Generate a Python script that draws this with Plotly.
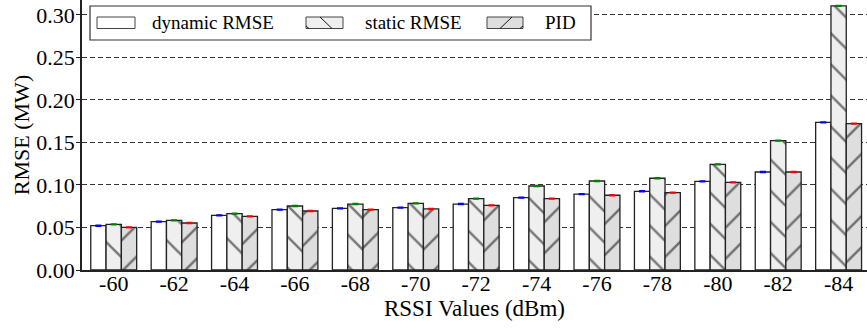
import plotly.graph_objects as go

categories = ["-60", "-62", "-64", "-66", "-68", "-70", "-72", "-74", "-76", "-78", "-80", "-82", "-84"]
dynamic_rmse = [0.0521, 0.0569, 0.0643, 0.0710, 0.0724, 0.0733, 0.0776, 0.0851, 0.0892, 0.0926, 0.1043, 0.1153, 0.1737]
static_rmse = [0.0537, 0.0584, 0.0663, 0.0753, 0.0776, 0.0784, 0.0839, 0.0988, 0.1047, 0.1079, 0.1243, 0.1522, 0.3106]
pid_rmse = [0.0502, 0.0553, 0.0631, 0.0694, 0.0710, 0.0718, 0.0761, 0.0839, 0.0879, 0.0910, 0.1031, 0.1153, 0.1721]
err_small = [0.0002] * 13
series_names = ["dynamic RMSE", "static RMSE", "PID"]

FONT = "Liberation Serif, Times New Roman, Times, serif"
EDGE = "#222222"

fig = go.Figure()
fig.add_trace(go.Bar(
    x=categories, y=dynamic_rmse, name=series_names[0],
    marker=dict(color="white", line=dict(color=EDGE, width=1.3)),
    error_y=dict(type="data", array=err_small, color="#0000ff", thickness=2, width=3),
    showlegend=False,
))
fig.add_trace(go.Bar(
    x=categories, y=static_rmse, name=series_names[1],
    marker=dict(color="#efefef", line=dict(color=EDGE, width=1.3),
                pattern=dict(shape="\\", size=22, solidity=0.11, fgcolor="#000000", bgcolor="#efefef")),
    error_y=dict(type="data", array=err_small, color="#008000", thickness=2, width=3),
    showlegend=False,
))
fig.add_trace(go.Bar(
    x=categories, y=pid_rmse, name=series_names[2],
    marker=dict(color="#dedede", line=dict(color=EDGE, width=1.3),
                pattern=dict(shape="/", size=22, solidity=0.11, fgcolor="#000000", bgcolor="#dedede")),
    error_y=dict(type="data", array=err_small, color="#ff0000", thickness=2, width=3),
    showlegend=False,
))

# manual legend (plot area: x 82..867 px, y 0..270 px)
L, W, H = 82.0, 785.0, 270.0
def px(x):
    return (x - L) / W
def py(y):
    return (H - y) / H

shapes = []
shapes.append(dict(type="rect", xref="paper", yref="paper", x0=px(90), x1=px(591), y0=py(40), y1=py(6),
                   fillcolor="white", line=dict(color="#333333", width=1.2), layer="above"))
sym_x = [(97, 135), (306, 343), (487, 523)]
sym_fill = ["white", "#efefef", "#dedede"]
for (a, b), fc in zip(sym_x, sym_fill):
    shapes.append(dict(type="rect", xref="paper", yref="paper", x0=px(a), x1=px(b), y0=py(28.5), y1=py(17),
                       fillcolor=fc, line=dict(color="#444444", width=1), layer="above"))
shapes.append(dict(type="line", xref="paper", yref="paper", x0=px(320), y0=py(17), x1=px(332), y1=py(28.5),
                   line=dict(color="#111111", width=1), layer="above"))
shapes.append(dict(type="line", xref="paper", yref="paper", x0=px(306), y0=py(26), x1=px(309), y1=py(28.5),
                   line=dict(color="#111111", width=1), layer="above"))
shapes.append(dict(type="line", xref="paper", yref="paper", x0=px(500), y0=py(28.5), x1=px(512), y1=py(17),
                   line=dict(color="#111111", width=1), layer="above"))
shapes.append(dict(type="line", xref="paper", yref="paper", x0=px(520), y0=py(28.5), x1=px(523), y1=py(26),
                   line=dict(color="#111111", width=1), layer="above"))

annotations = []
text_x = [150, 363, 543]
for tx, name in zip(text_x, series_names):
    annotations.append(dict(x=px(tx), y=py(23), xref="paper", yref="paper", text=name, showarrow=False,
                            xanchor="left", yanchor="middle", font=dict(family=FONT, size=19, color="black")))

fig.update_layout(
    width=867, height=333,
    margin=dict(l=82, r=0, t=0, b=63, pad=0),
    paper_bgcolor="white", plot_bgcolor="white",
    barmode="group", bargap=0.24, bargroupgap=0,
    font=dict(family=FONT, size=20, color="black"),
    shapes=shapes, annotations=annotations,
    showlegend=False,
)
fig.update_xaxes(
    type="category", range=[-0.525, 12.47],
    showline=True, linecolor="#222222", linewidth=1.5,
    ticks="", showgrid=False, layer="above traces",
    tickfont=dict(family=FONT, size=22), ticklabelstandoff=-7,
    title=dict(text="RSSI Values (dBm)", font=dict(family=FONT, size=23), standoff=2),
)
fig.update_yaxes(
    range=[0, 0.3176], dtick=0.05, tick0=0, tickformat=".2f",
    showline=True, linecolor="#222222", linewidth=1.5,
    ticks="outside", ticklen=4, tickcolor="#222222",
    showgrid=True, gridcolor="#333333", gridwidth=1.2, griddash="5px,3px",
    zeroline=False, layer="above traces",
    tickfont=dict(family=FONT, size=22), ticklabelstandoff=-3,
    title=dict(text="RMSE (MW)", font=dict(family=FONT, size=22), standoff=1),
)

fig.write_html(
    "out.html",
    config={"displayModeBar": False},
    post_script="document.body.style.margin='0';document.body.style.padding='0';",
)
